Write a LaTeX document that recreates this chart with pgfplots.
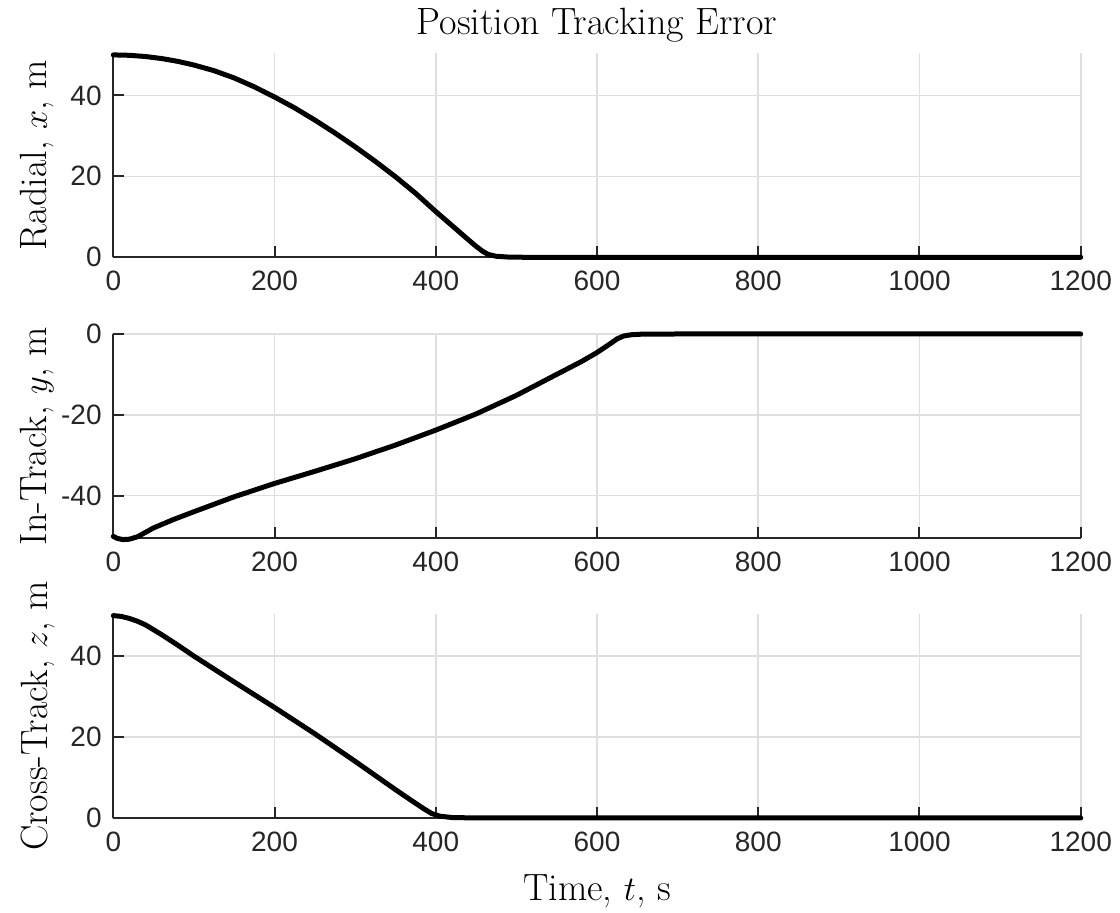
\documentclass[border=0pt]{standalone}
\usepackage{fontspec}
\usepackage{pgfplots}
\pgfplotsset{compat=1.18}
\newfontfamily\ticksf{Liberation Sans}
\definecolor{axcol}{HTML}{262626}
\definecolor{gridcol}{HTML}{DFDFDF}

\pgfplotstableread{
t v
0 50
20 49.9
40 49.6
60 49.1
80 48.4
100 47.5
125 46.1
150 44.3
175 42.1
200 39.6
225 36.9
250 33.9
275 30.7
300 27.3
325 23.7
350 19.9
375 15.8
400 11.3
425 7.0
440 4.4
450 2.7
458 1.5
465 0.7
475 0.25
490 0.05
510 0
1200 0
}\radial

\pgfplotstableread{
t v
0 -50.1
5 -50.6
12 -50.9
20 -50.8
30 -50.2
50 -48.0
75 -45.9
100 -44.0
150 -40.3
200 -37.0
250 -34.0
300 -30.9
350 -27.5
400 -23.8
450 -19.8
500 -15.2
550 -10.0
580 -6.9
600 -4.6
615 -2.6
625 -1.2
633 -0.5
642 -0.2
655 -0.05
700 0
1200 0
}\intrack

\pgfplotstableread{
t v
0 50.0
10 49.8
20 49.3
30 48.6
40 47.7
60 45.3
80 42.7
100 40.0
150 33.6
200 27.3
250 20.8
300 14.0
330 9.8
350 7.0
370 4.3
385 2.3
395 1.1
405 0.45
420 0.12
450 0
1200 0
}\crosstrack

\pgfplotsset{
  mystyle/.style={
    scale only axis,
    width=483.7pt, height=102pt,
    anchor=south west,
    xmin=0, xmax=1200,
    xtick={0,200,...,1200},
    axis x line=bottom, axis y line=left,
    axis line style={-, color=axcol, line width=1pt},
    tick align=inside,
    major tick length=5.5pt,
    tick style={color=axcol, line width=1pt},
    grid=major,
    major grid style={color=gridcol, line width=0.8pt},
    clip=false,
    ticklabel style={font=\ticksf\fontsize{14}{14}\selectfont, text=axcol},
    /pgf/number format/assume math mode=true,
    /pgf/number format/1000 sep={},
    xticklabel style={yshift=-3.5pt},
    yticklabel style={xshift=-2.3pt},
    scaled ticks=false,
    label style={font=\fontsize{19}{19}\selectfont, text=black},
    ylabel style={at={(rel axis cs:0,0.5)}, anchor=center, yshift=37.9pt},
  },
  myline/.style={black, line width=2.5pt, no marks, line join=round, line cap=round},
}

\begin{document}
\begin{tikzpicture}
\path[use as bounding box] (0,0) rectangle (560pt,456.5pt);

% top
\begin{axis}[mystyle, at={(56.65pt,327.85pt)},
  ymin=0, ymax=50.4, ytick={0,20,40},
  ylabel={Radial, $x$, m},
  title={Position Tracking Error},
  title style={at={(rel axis cs:0.5,1)}, anchor=base, yshift=3.2pt, font=\fontsize{19}{19}\selectfont},
]
\addplot[myline] table[x=t,y=v] {\radial};
\end{axis}

% middle
\begin{axis}[mystyle, at={(56.65pt,187.5pt)},
  ymin=-50.5, ymax=0, ytick={-40,-20,0},
  ylabel={In-Track, $y$, m},
]
\addplot[myline] table[x=t,y=v] {\intrack};
\end{axis}

% bottom
\begin{axis}[mystyle, at={(56.65pt,47.5pt)},
  ymin=0, ymax=50.4, ytick={0,20,40},
  ylabel={Cross-Track, $z$, m},
  xlabel={Time, $t$, s},
  xlabel style={at={(rel axis cs:0.5,0)}, anchor=base, yshift=-41.5pt},
]
\addplot[myline] table[x=t,y=v] {\crosstrack};
\end{axis}
\end{tikzpicture}
\end{document}
